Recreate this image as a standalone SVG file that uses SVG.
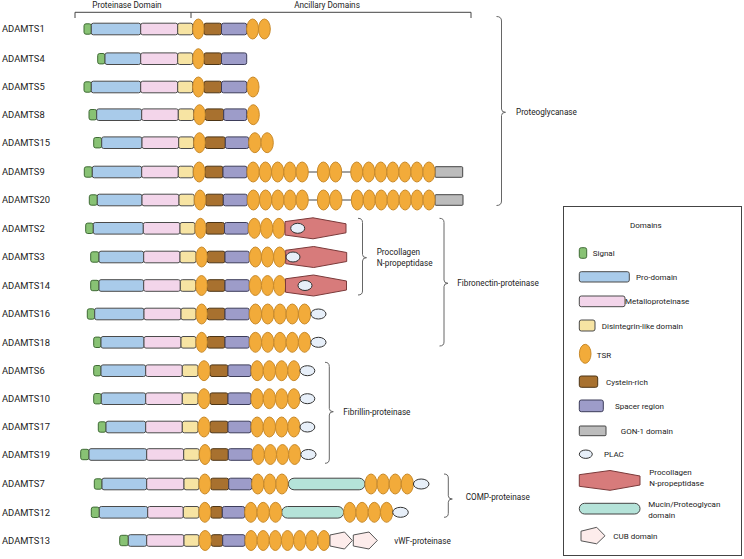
<svg xmlns="http://www.w3.org/2000/svg" width="744" height="559" viewBox="0 0 744 559">
<style>
text{font-family:Roboto,"Liberation Sans",sans-serif;fill:#222}
.lbl{font-size:9.4px}
.sm{font-size:8.2px}
.lg{font-size:8px}
rect,ellipse,polygon,path{stroke-width:1}
.sig{fill:#88c274;stroke:#3f6b35}
.pro{fill:#a9cbea;stroke:#4a4a4a}
.met{fill:#f3d5ea;stroke:#4a4a4a}
.dis{fill:#f7e4a3;stroke:#4a4a4a}
.tsr{fill:#f2ab3a;stroke:#c98a2a}
.cys{fill:#a8712f;stroke:#4c3414}
.sp{fill:#9d9cc9;stroke:#3d3d5a}
.gon{fill:#bcbcbc;stroke:#444}
.plac{fill:#e7eff9;stroke:#333}
.pc{fill:#d77b7b;stroke:#7a3a3a}
.muc{fill:#b5e3d9;stroke:#444}
.cub{fill:#fdeceb;stroke:#555}
.ln{stroke:#444;fill:none}
.br{stroke:#666;fill:none;stroke-width:1}
</style>
<defs>
<polygon id="hex" class="pc" points="0,-6.7 28,-10.5 61,-4.5 61,4.5 28,10.5 0,6.7"/>
</defs>

<g id="header">
<text class="sm" x="127" y="7.8" text-anchor="middle">Proteinase Domain</text>
<text class="sm" x="327" y="7.8" text-anchor="middle">Ancillary Domains</text>
</g>

<g id="connectors">
<path class="ln" d="M75,18 V12.3 H471 V18 M191,12.3 V18"/>
<path class="br" d="M496.5,16.5 Q501.5,16.5 501.5,21 V109 Q501.5,112.3 505.5,112.3 Q501.5,112.3 501.5,115.5 V201 Q501.5,205.5 496.5,205.5"/>
<path class="br" d="M358,218.3 Q362.5,218.3 362.5,222.5 V254.5 Q362.5,257.7 366.5,257.7 Q362.5,257.7 362.5,261 V291 Q362.5,295 358,295"/>
<path class="br" d="M439.5,218.3 Q444,218.3 444,222.5 V280 Q444,283.3 448,283.3 Q444,283.3 444,286.5 V342 Q444,346 439.5,346"/>
<path class="br" d="M325,362.3 Q329.3,362.3 329.3,366.5 V408.5 Q329.3,411.7 333.3,411.7 Q329.3,411.7 329.3,415 V459 Q329.3,463.3 325,463.3"/>
<path class="br" d="M444,474 Q448.3,474 448.3,478 V495.8 Q448.3,499 452.3,499 Q448.3,499 448.3,502.2 V513.3 Q448.3,517.3 444,517.3"/>
<text class="sm" x="516" y="115.3">Proteoglycanase</text>
<text class="sm" x="376.7" y="255">Procollagen</text>
<text class="sm" x="376.7" y="265.5">N-propeptidase</text>
<text class="sm" x="457.3" y="286.3">Fibronectin-proteinase</text>
<text class="sm" x="343.3" y="414.7">Fibrillin-proteinase</text>
<text class="sm" x="465.7" y="500.3">COMP-proteinase</text>
<text class="sm" x="394.3" y="543.5">vWF-proteinase</text>
</g>

<g id="ADAMTS1">
<text class="lbl" x="2" y="32.4">ADAMTS1</text>
<rect class="sig" x="84" y="23.8" width="7.3" height="10.4" rx="2"/>
<rect class="pro" x="91.3" y="23.2" width="49.4" height="11.6" rx="2"/>
<rect class="met" x="140.7" y="23.2" width="37" height="11.6" rx="2"/>
<rect class="dis" x="177.7" y="23.2" width="15" height="11.6" rx="2"/>
<rect class="cys" x="204" y="23.2" width="17.5" height="11.6" rx="2"/>
<rect class="sp" x="221.5" y="23.2" width="25.2" height="11.6" rx="2"/>
<ellipse class="tsr" cx="198.35" cy="29" rx="5.65" ry="10"/>
<ellipse class="tsr" cx="252.6" cy="29" rx="5.9" ry="10"/>
<ellipse class="tsr" cx="264.4" cy="29" rx="5.9" ry="10"/>
</g>

<g id="ADAMTS4">
<text class="lbl" x="2" y="62.1">ADAMTS4</text>
<rect class="sig" x="97.7" y="53.5" width="7.3" height="10.4" rx="2"/>
<rect class="pro" x="105" y="52.9" width="35.7" height="11.6" rx="2"/>
<rect class="met" x="140.7" y="52.9" width="37" height="11.6" rx="2"/>
<rect class="dis" x="177.7" y="52.9" width="15" height="11.6" rx="2"/>
<rect class="cys" x="204" y="52.9" width="17.5" height="11.6" rx="2"/>
<rect class="sp" x="221.5" y="52.9" width="25.2" height="11.6" rx="2"/>
<ellipse class="tsr" cx="198.35" cy="58.7" rx="5.65" ry="10"/>
</g>

<g id="ADAMTS5">
<text class="lbl" x="2" y="90.4">ADAMTS5</text>
<rect class="sig" x="84" y="81.8" width="7.3" height="10.4" rx="2"/>
<rect class="pro" x="91.3" y="81.2" width="49.4" height="11.6" rx="2"/>
<rect class="met" x="140.7" y="81.2" width="37" height="11.6" rx="2"/>
<rect class="dis" x="177.7" y="81.2" width="15" height="11.6" rx="2"/>
<rect class="cys" x="204" y="81.2" width="17.5" height="11.6" rx="2"/>
<rect class="sp" x="221.5" y="81.2" width="25.2" height="11.6" rx="2"/>
<ellipse class="tsr" cx="198.35" cy="87" rx="5.65" ry="10"/>
<ellipse class="tsr" cx="253" cy="87" rx="6" ry="10"/>
</g>

<g id="ADAMTS8">
<text class="lbl" x="2" y="118.1">ADAMTS8</text>
<rect class="sig" x="89" y="109.5" width="7.7" height="10.4" rx="2"/>
<rect class="pro" x="96.7" y="108.9" width="45" height="11.6" rx="2"/>
<rect class="met" x="141.7" y="108.9" width="36.6" height="11.6" rx="2"/>
<rect class="dis" x="178.3" y="108.9" width="15.4" height="11.6" rx="2"/>
<rect class="cys" x="205.3" y="108.9" width="18.4" height="11.6" rx="2"/>
<rect class="sp" x="223.7" y="108.9" width="23" height="11.6" rx="2"/>
<ellipse class="tsr" cx="199.5" cy="114.7" rx="5.8" ry="10"/>
<ellipse class="tsr" cx="253.3" cy="114.7" rx="6" ry="10"/>
</g>

<g id="ADAMTS15">
<text class="lbl" x="2" y="146.1">ADAMTS15</text>
<rect class="sig" x="93.7" y="137.5" width="8" height="10.4" rx="2"/>
<rect class="pro" x="101.7" y="136.9" width="40.3" height="11.6" rx="2"/>
<rect class="met" x="142" y="136.9" width="36.7" height="11.6" rx="2"/>
<rect class="dis" x="178.7" y="136.9" width="15" height="11.6" rx="2"/>
<rect class="cys" x="205.3" y="136.9" width="20" height="11.6" rx="2"/>
<rect class="sp" x="225.3" y="136.9" width="23.4" height="11.6" rx="2"/>
<ellipse class="tsr" cx="199.5" cy="142.7" rx="5.8" ry="10"/>
<ellipse class="tsr" cx="254.85" cy="142.7" rx="6.15" ry="10"/>
<ellipse class="tsr" cx="267.15" cy="142.7" rx="6.15" ry="10"/>
</g>

<g id="ADAMTS9">
<text class="lbl" x="2" y="175.4">ADAMTS9</text>
<path class="ln" d="M308,172 H318 M341.5,172 H351"/>
<rect class="sig" x="84.3" y="166.8" width="8" height="10.4" rx="2"/>
<rect class="pro" x="92.3" y="166.2" width="49.4" height="11.6" rx="2"/>
<rect class="met" x="141.7" y="166.2" width="36.6" height="11.6" rx="2"/>
<rect class="dis" x="178.3" y="166.2" width="15" height="11.6" rx="2"/>
<rect class="cys" x="205" y="166.2" width="18" height="11.6" rx="2"/>
<rect class="sp" x="223" y="166.2" width="24" height="11.6" rx="2"/>
<rect class="gon" x="435" y="166.7" width="27.7" height="10.6" rx="1"/>
<ellipse class="tsr" cx="199.15" cy="172" rx="5.85" ry="10"/>
<ellipse class="tsr" cx="253.13" cy="172" rx="6.13" ry="10"/>
<ellipse class="tsr" cx="265.39" cy="172" rx="6.13" ry="10"/>
<ellipse class="tsr" cx="277.65" cy="172" rx="6.13" ry="10"/>
<ellipse class="tsr" cx="289.91" cy="172" rx="6.13" ry="10"/>
<ellipse class="tsr" cx="302.17" cy="172" rx="6.13" ry="10"/>
<ellipse class="tsr" cx="323.4" cy="172" rx="6.1" ry="10"/>
<ellipse class="tsr" cx="335.6" cy="172" rx="6.1" ry="10"/>
<ellipse class="tsr" cx="356.72" cy="172" rx="6.02" ry="10"/>
<ellipse class="tsr" cx="368.76" cy="172" rx="6.02" ry="10"/>
<ellipse class="tsr" cx="380.8" cy="172" rx="6.02" ry="10"/>
<ellipse class="tsr" cx="392.84" cy="172" rx="6.02" ry="10"/>
<ellipse class="tsr" cx="404.88" cy="172" rx="6.02" ry="10"/>
<ellipse class="tsr" cx="416.92" cy="172" rx="6.02" ry="10"/>
<ellipse class="tsr" cx="428.96" cy="172" rx="6.02" ry="10"/>
</g>

<g id="ADAMTS20">
<text class="lbl" x="2" y="203.4">ADAMTS20</text>
<path class="ln" d="M308,200 H318 M341.8,200 H351.5"/>
<rect class="sig" x="89.3" y="194.8" width="8" height="10.4" rx="2"/>
<rect class="pro" x="97.3" y="194.2" width="44.7" height="11.6" rx="2"/>
<rect class="met" x="142" y="194.2" width="37" height="11.6" rx="2"/>
<rect class="dis" x="179" y="194.2" width="15.3" height="11.6" rx="2"/>
<rect class="cys" x="205.7" y="194.2" width="17.6" height="11.6" rx="2"/>
<rect class="sp" x="223.3" y="194.2" width="24" height="11.6" rx="2"/>
<rect class="gon" x="435" y="194.7" width="28" height="10.6" rx="1"/>
<ellipse class="tsr" cx="200" cy="200" rx="5.7" ry="10"/>
<ellipse class="tsr" cx="253.4" cy="200" rx="6.1" ry="10"/>
<ellipse class="tsr" cx="265.6" cy="200" rx="6.1" ry="10"/>
<ellipse class="tsr" cx="277.8" cy="200" rx="6.1" ry="10"/>
<ellipse class="tsr" cx="290" cy="200" rx="6.1" ry="10"/>
<ellipse class="tsr" cx="302.2" cy="200" rx="6.1" ry="10"/>
<ellipse class="tsr" cx="323.5" cy="200" rx="6.17" ry="10"/>
<ellipse class="tsr" cx="335.8" cy="200" rx="6.17" ry="10"/>
<ellipse class="tsr" cx="357.28" cy="200" rx="5.98" ry="10"/>
<ellipse class="tsr" cx="369.24" cy="200" rx="5.98" ry="10"/>
<ellipse class="tsr" cx="381.2" cy="200" rx="5.98" ry="10"/>
<ellipse class="tsr" cx="393.16" cy="200" rx="5.98" ry="10"/>
<ellipse class="tsr" cx="405.12" cy="200" rx="5.98" ry="10"/>
<ellipse class="tsr" cx="417.08" cy="200" rx="5.98" ry="10"/>
<ellipse class="tsr" cx="429.04" cy="200" rx="5.98" ry="10"/>
</g>

<g id="ADAMTS2">
<text class="lbl" x="2" y="231.7">ADAMTS2</text>
<rect class="sig" x="85.7" y="223.1" width="7.6" height="10.4" rx="2"/>
<rect class="pro" x="93.3" y="222.5" width="50" height="11.6" rx="2"/>
<rect class="met" x="143.3" y="222.5" width="36.7" height="11.6" rx="2"/>
<rect class="dis" x="180" y="222.5" width="15" height="11.6" rx="2"/>
<rect class="cys" x="206" y="222.5" width="18.5" height="11.6" rx="2"/>
<rect class="sp" x="224.5" y="222.5" width="23.8" height="11.6" rx="2"/>
<ellipse class="tsr" cx="200.5" cy="228.3" rx="5.5" ry="10"/>
<ellipse class="tsr" cx="254.4" cy="228.3" rx="6.1" ry="10"/>
<ellipse class="tsr" cx="266.65" cy="228.3" rx="6.1" ry="10"/>
<ellipse class="tsr" cx="278.9" cy="228.3" rx="6.1" ry="10"/>
<use href="#hex" x="285" y="228.3"/>
<ellipse class="plac" cx="297.7" cy="228.3" rx="7" ry="5"/>
</g>

<g id="ADAMTS3">
<text class="lbl" x="2" y="260.4">ADAMTS3</text>
<rect class="sig" x="90.7" y="251.8" width="8.3" height="10.4" rx="2"/>
<rect class="pro" x="99" y="251.2" width="44.7" height="11.6" rx="2"/>
<rect class="met" x="143.7" y="251.2" width="36.3" height="11.6" rx="2"/>
<rect class="dis" x="180" y="251.2" width="16" height="11.6" rx="2"/>
<rect class="cys" x="207.3" y="251.2" width="17.7" height="11.6" rx="2"/>
<rect class="sp" x="225" y="251.2" width="24.3" height="11.6" rx="2"/>
<ellipse class="tsr" cx="201.65" cy="257" rx="5.65" ry="10"/>
<ellipse class="tsr" cx="255.37" cy="257" rx="6.07" ry="10"/>
<ellipse class="tsr" cx="267.5" cy="257" rx="6.07" ry="10"/>
<ellipse class="tsr" cx="279.63" cy="257" rx="6.07" ry="10"/>
<use href="#hex" x="285.7" y="257"/>
<ellipse class="plac" cx="293" cy="257" rx="7" ry="5"/>
</g>

<g id="ADAMTS14">
<text class="lbl" x="2" y="288.9">ADAMTS14</text>
<rect class="sig" x="90.7" y="280.3" width="8.3" height="10.4" rx="2"/>
<rect class="pro" x="99" y="279.7" width="44.7" height="11.6" rx="2"/>
<rect class="met" x="143.7" y="279.7" width="36.6" height="11.6" rx="2"/>
<rect class="dis" x="180.3" y="279.7" width="15.4" height="11.6" rx="2"/>
<rect class="cys" x="207.3" y="279.7" width="17.7" height="11.6" rx="2"/>
<rect class="sp" x="225" y="279.7" width="24.3" height="11.6" rx="2"/>
<ellipse class="tsr" cx="201.5" cy="285.5" rx="5.8" ry="10"/>
<ellipse class="tsr" cx="255.37" cy="285.5" rx="6.07" ry="10"/>
<ellipse class="tsr" cx="267.5" cy="285.5" rx="6.07" ry="10"/>
<ellipse class="tsr" cx="279.63" cy="285.5" rx="6.07" ry="10"/>
<use href="#hex" x="285.5" y="285.5"/>
<ellipse class="plac" cx="305" cy="285.5" rx="7" ry="5"/>
</g>

<g id="ADAMTS16">
<text class="lbl" x="2" y="317.4">ADAMTS16</text>
<rect class="sig" x="87.3" y="308.8" width="7.4" height="10.4" rx="2"/>
<rect class="pro" x="94.7" y="308.2" width="49.3" height="11.6" rx="2"/>
<rect class="met" x="144" y="308.2" width="37" height="11.6" rx="2"/>
<rect class="dis" x="181" y="308.2" width="15" height="11.6" rx="2"/>
<rect class="cys" x="207.3" y="308.2" width="17.7" height="11.6" rx="2"/>
<rect class="sp" x="225" y="308.2" width="24.3" height="11.6" rx="2"/>
<ellipse class="tsr" cx="201.65" cy="314" rx="5.65" ry="10"/>
<ellipse class="tsr" cx="255.44" cy="314" rx="6.14" ry="10"/>
<ellipse class="tsr" cx="267.72" cy="314" rx="6.14" ry="10"/>
<ellipse class="tsr" cx="280" cy="314" rx="6.14" ry="10"/>
<ellipse class="tsr" cx="292.28" cy="314" rx="6.14" ry="10"/>
<ellipse class="tsr" cx="304.56" cy="314" rx="6.14" ry="10"/>
<ellipse class="plac" cx="318.4" cy="314" rx="7.6" ry="5"/>
</g>

<g id="ADAMTS18">
<text class="lbl" x="2" y="345.7">ADAMTS18</text>
<rect class="sig" x="93.7" y="337.1" width="7.3" height="10.4" rx="2"/>
<rect class="pro" x="101" y="336.5" width="43" height="11.6" rx="2"/>
<rect class="met" x="144" y="336.5" width="37" height="11.6" rx="2"/>
<rect class="dis" x="181" y="336.5" width="15" height="11.6" rx="2"/>
<rect class="cys" x="207.3" y="336.5" width="17.7" height="11.6" rx="2"/>
<rect class="sp" x="225" y="336.5" width="24.3" height="11.6" rx="2"/>
<ellipse class="tsr" cx="201.65" cy="342.3" rx="5.65" ry="10"/>
<ellipse class="tsr" cx="255.44" cy="342.3" rx="6.14" ry="10"/>
<ellipse class="tsr" cx="267.72" cy="342.3" rx="6.14" ry="10"/>
<ellipse class="tsr" cx="280" cy="342.3" rx="6.14" ry="10"/>
<ellipse class="tsr" cx="292.28" cy="342.3" rx="6.14" ry="10"/>
<ellipse class="tsr" cx="304.56" cy="342.3" rx="6.14" ry="10"/>
<ellipse class="plac" cx="318.4" cy="342.3" rx="7.6" ry="5"/>
</g>

<g id="ADAMTS6">
<text class="lbl" x="2" y="374.1">ADAMTS6</text>
<rect class="sig" x="93.7" y="365.5" width="7.3" height="10.4" rx="2"/>
<rect class="pro" x="101" y="364.9" width="44.7" height="11.6" rx="2"/>
<rect class="met" x="145.7" y="364.9" width="36.6" height="11.6" rx="2"/>
<rect class="dis" x="182.3" y="364.9" width="15.7" height="11.6" rx="2"/>
<rect class="cys" x="210" y="364.9" width="18" height="11.6" rx="2"/>
<rect class="sp" x="228" y="364.9" width="23" height="11.6" rx="2"/>
<ellipse class="tsr" cx="204" cy="370.7" rx="6" ry="10"/>
<ellipse class="tsr" cx="257.13" cy="370.7" rx="6.12" ry="10"/>
<ellipse class="tsr" cx="269.38" cy="370.7" rx="6.12" ry="10"/>
<ellipse class="tsr" cx="281.63" cy="370.7" rx="6.12" ry="10"/>
<ellipse class="tsr" cx="293.88" cy="370.7" rx="6.12" ry="10"/>
<ellipse class="plac" cx="307.4" cy="370.7" rx="7.4" ry="5"/>
</g>

<g id="ADAMTS10">
<text class="lbl" x="2" y="402.1">ADAMTS10</text>
<rect class="sig" x="93.7" y="393.5" width="7.6" height="10.4" rx="2"/>
<rect class="pro" x="101.3" y="392.9" width="44.4" height="11.6" rx="2"/>
<rect class="met" x="145.7" y="392.9" width="36.6" height="11.6" rx="2"/>
<rect class="dis" x="182.3" y="392.9" width="15.7" height="11.6" rx="2"/>
<rect class="cys" x="210" y="392.9" width="18" height="11.6" rx="2"/>
<rect class="sp" x="228" y="392.9" width="23" height="11.6" rx="2"/>
<ellipse class="tsr" cx="204" cy="398.7" rx="6" ry="10"/>
<ellipse class="tsr" cx="257.13" cy="398.7" rx="6.12" ry="10"/>
<ellipse class="tsr" cx="269.38" cy="398.7" rx="6.12" ry="10"/>
<ellipse class="tsr" cx="281.63" cy="398.7" rx="6.12" ry="10"/>
<ellipse class="tsr" cx="293.88" cy="398.7" rx="6.12" ry="10"/>
<ellipse class="plac" cx="307.4" cy="398.7" rx="7.4" ry="5"/>
</g>

<g id="ADAMTS17">
<text class="lbl" x="2" y="430.4">ADAMTS17</text>
<rect class="sig" x="98.3" y="421.8" width="7.7" height="10.4" rx="2"/>
<rect class="pro" x="106" y="421.2" width="39.7" height="11.6" rx="2"/>
<rect class="met" x="145.7" y="421.2" width="36.6" height="11.6" rx="2"/>
<rect class="dis" x="182.3" y="421.2" width="15.7" height="11.6" rx="2"/>
<rect class="cys" x="210" y="421.2" width="18" height="11.6" rx="2"/>
<rect class="sp" x="228" y="421.2" width="23" height="11.6" rx="2"/>
<ellipse class="tsr" cx="204" cy="427" rx="6" ry="10"/>
<ellipse class="tsr" cx="257.13" cy="427" rx="6.12" ry="10"/>
<ellipse class="tsr" cx="269.38" cy="427" rx="6.12" ry="10"/>
<ellipse class="tsr" cx="281.63" cy="427" rx="6.12" ry="10"/>
<ellipse class="tsr" cx="293.88" cy="427" rx="6.12" ry="10"/>
<ellipse class="plac" cx="307.4" cy="427" rx="7.4" ry="5"/>
</g>

<g id="ADAMTS19">
<text class="lbl" x="2" y="457.9">ADAMTS19</text>
<rect class="sig" x="80.7" y="449.3" width="8.3" height="10.4" rx="2"/>
<rect class="pro" x="89" y="448.7" width="57.7" height="11.6" rx="2"/>
<rect class="met" x="146.7" y="448.7" width="37" height="11.6" rx="2"/>
<rect class="dis" x="183.7" y="448.7" width="15.6" height="11.6" rx="2"/>
<rect class="cys" x="210.7" y="448.7" width="17.6" height="11.6" rx="2"/>
<rect class="sp" x="228.3" y="448.7" width="24" height="11.6" rx="2"/>
<ellipse class="tsr" cx="205" cy="454.5" rx="5.7" ry="10"/>
<ellipse class="tsr" cx="258.35" cy="454.5" rx="6.05" ry="10"/>
<ellipse class="tsr" cx="270.45" cy="454.5" rx="6.05" ry="10"/>
<ellipse class="tsr" cx="282.55" cy="454.5" rx="6.05" ry="10"/>
<ellipse class="tsr" cx="294.65" cy="454.5" rx="6.05" ry="10"/>
<ellipse class="plac" cx="308.4" cy="454.5" rx="7.6" ry="5"/>
</g>

<g id="ADAMTS7">
<text class="lbl" x="2" y="487.4">ADAMTS7</text>
<rect class="sig" x="94.3" y="478.8" width="7.7" height="10.4" rx="2"/>
<rect class="pro" x="102" y="478.2" width="44.7" height="11.6" rx="2"/>
<rect class="met" x="146.7" y="478.2" width="37.3" height="11.6" rx="2"/>
<rect class="dis" x="184" y="478.2" width="15" height="11.6" rx="2"/>
<rect class="cys" x="210.7" y="478.2" width="18" height="11.6" rx="2"/>
<rect class="sp" x="228.7" y="478.2" width="23" height="11.6" rx="2"/>
<rect class="muc" x="288.3" y="478.2" width="76.7" height="11.6" rx="5.8"/>
<ellipse class="tsr" cx="204.85" cy="484" rx="5.85" ry="10"/>
<ellipse class="tsr" cx="257.75" cy="484" rx="6.05" ry="10"/>
<ellipse class="tsr" cx="269.85" cy="484" rx="6.05" ry="10"/>
<ellipse class="tsr" cx="281.95" cy="484" rx="6.05" ry="10"/>
<ellipse class="tsr" cx="371.04" cy="484" rx="6.04" ry="10"/>
<ellipse class="tsr" cx="383.12" cy="484" rx="6.04" ry="10"/>
<ellipse class="tsr" cx="395.2" cy="484" rx="6.04" ry="10"/>
<ellipse class="tsr" cx="407.28" cy="484" rx="6.04" ry="10"/>
<ellipse class="plac" cx="421.2" cy="484" rx="7.8" ry="5"/>
</g>

<g id="ADAMTS12">
<text class="lbl" x="2" y="515.7">ADAMTS12</text>
<rect class="sig" x="91.3" y="507.1" width="8" height="10.4" rx="2"/>
<rect class="pro" x="99.3" y="506.5" width="48.4" height="11.6" rx="2"/>
<rect class="met" x="147.7" y="506.5" width="35.6" height="11.6" rx="2"/>
<rect class="dis" x="183.3" y="506.5" width="15.7" height="11.6" rx="2"/>
<rect class="cys" x="210.7" y="506.5" width="11.6" height="11.6" rx="2"/>
<rect class="sp" x="222.3" y="506.5" width="22.4" height="11.6" rx="2"/>
<rect class="muc" x="281.7" y="506.5" width="62" height="11.6" rx="5.8"/>
<ellipse class="tsr" cx="204.85" cy="512.3" rx="5.85" ry="10"/>
<ellipse class="tsr" cx="250.87" cy="512.3" rx="6.17" ry="10"/>
<ellipse class="tsr" cx="263.2" cy="512.3" rx="6.17" ry="10"/>
<ellipse class="tsr" cx="275.53" cy="512.3" rx="6.17" ry="10"/>
<ellipse class="tsr" cx="349.83" cy="512.3" rx="6.12" ry="10"/>
<ellipse class="tsr" cx="362.08" cy="512.3" rx="6.12" ry="10"/>
<ellipse class="tsr" cx="374.33" cy="512.3" rx="6.12" ry="10"/>
<ellipse class="tsr" cx="386.58" cy="512.3" rx="6.12" ry="10"/>
<ellipse class="plac" cx="400.5" cy="512.3" rx="7.8" ry="5"/>
</g>

<g id="ADAMTS13">
<text class="lbl" x="2" y="543.9">ADAMTS13</text>
<rect class="sig" x="119.7" y="535.3" width="8.6" height="10.4" rx="2"/>
<rect class="pro" x="128.3" y="534.7" width="18.4" height="11.6" rx="2"/>
<rect class="met" x="146.7" y="534.7" width="37.3" height="11.6" rx="2"/>
<rect class="dis" x="184" y="534.7" width="15" height="11.6" rx="2"/>
<rect class="cys" x="211.3" y="534.7" width="11.4" height="11.6" rx="2"/>
<rect class="sp" x="222.7" y="534.7" width="22.3" height="11.6" rx="2"/>
<ellipse class="tsr" cx="205.15" cy="540.5" rx="6.15" ry="10"/>
<ellipse class="tsr" cx="251.07" cy="540.5" rx="6.07" ry="10"/>
<ellipse class="tsr" cx="263.21" cy="540.5" rx="6.07" ry="10"/>
<ellipse class="tsr" cx="275.35" cy="540.5" rx="6.07" ry="10"/>
<ellipse class="tsr" cx="287.49" cy="540.5" rx="6.07" ry="10"/>
<ellipse class="tsr" cx="299.63" cy="540.5" rx="6.07" ry="10"/>
<ellipse class="tsr" cx="311.77" cy="540.5" rx="6.07" ry="10"/>
<ellipse class="tsr" cx="323.91" cy="540.5" rx="6.07" ry="10"/>
<polygon class="cub" points="330,535 344.5,532 352.3,540.5 344.5,549 330,546"/>
<polygon class="cub" points="353.3,535 369,532 377.3,540.5 369,549 353.3,546"/>
</g>

<g id="legend">
<rect x="563.5" y="206.5" width="178" height="349" fill="#fff" stroke="#444"/>
<text class="lg" x="645.8" y="228" text-anchor="middle">Domains</text>
<rect class="sig" x="579.3" y="247.7" width="7.4" height="10.6" rx="2"/>
<text class="lg" x="592.7" y="255.5">Signal</text>
<rect class="pro" x="579.3" y="271.7" width="50" height="10.3" rx="2"/>
<text class="lg" x="636" y="279.8">Pro-domain</text>
<rect class="met" x="579.3" y="296" width="45.7" height="10.7" rx="2"/>
<text class="lg" x="625" y="303.5">Metalloproteinase</text>
<rect class="dis" x="579.3" y="320" width="15.7" height="11" rx="2"/>
<text class="lg" x="601.7" y="328.5">Disintegrin-like domain</text>
<ellipse class="tsr" cx="585.2" cy="353.8" rx="5.8" ry="9.5"/>
<text class="lg" x="596.7" y="357.8">TSR</text>
<rect class="cys" x="579.3" y="376" width="18.4" height="11.3" rx="2"/>
<text class="lg" x="606" y="384.5">Cystein-rich</text>
<rect class="sp" x="579.3" y="400" width="24" height="11.7" rx="2"/>
<text class="lg" x="615" y="408.5">Spacer region</text>
<rect class="gon" x="579.3" y="426" width="26.7" height="9.7" rx="1"/>
<text class="lg" x="620.7" y="433.8">GON-1 domain</text>
<ellipse class="plac" cx="585.8" cy="454.2" rx="6.5" ry="4.2"/>
<text class="lg" x="604" y="457">PLAC</text>
<polygon class="pc" points="579.3,474.7 610,470.5 640,476 640,485 610,490.3 579.3,486.3"/>
<text class="lg" x="649.3" y="475.1">Procollagen</text>
<text class="lg" x="649.3" y="486.1">N-propeptidase</text>
<rect class="muc" x="579.3" y="503.3" width="60.7" height="10.7" rx="5.3"/>
<text class="lg" x="648.3" y="507.1">Mucin/Proteoglycan</text>
<text class="lg" x="648.3" y="517.5">domain</text>
<polygon class="cub" points="581,531.2 596.7,527.3 605,535.8 596.7,543.8 581,540.8"/>
<text class="lg" x="613.3" y="538.8">CUB domain</text>
</g>
</svg>
